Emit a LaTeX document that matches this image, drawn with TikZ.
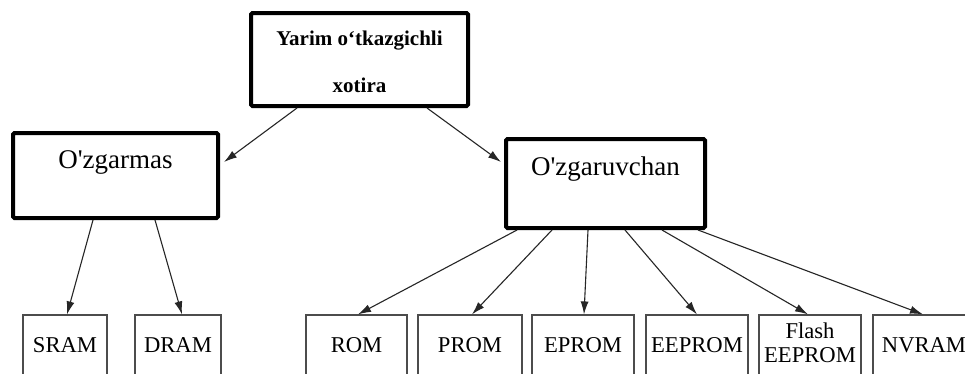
\documentclass[tikz,border=0pt]{standalone}
\usepackage{fontspec}
\setmainfont{Liberation Serif}
\usetikzlibrary{arrows.meta,calc}
\tikzset{
  thickbox/.style={draw=black, line width=4pt, rounded corners=1.5pt, fill=white, inner sep=0pt},
  leafbox/.style={draw=black!70, line width=1.2pt, inner sep=0pt, minimum height=85pt,
     font=\fontsize{22.6}{24}\selectfont, text height=16pt, text depth=27pt},
  conn/.style={draw=black!85, line width=1.1pt, -{Latex[length=13pt,width=8pt]}},
}
\begin{document}
\begin{tikzpicture}[x=1pt,y=-1pt]
\path[use as bounding box, clip] (0,0) rectangle (965,373);
\fill[white] (0,0) rectangle (965,373);
% thick boxes
\node[thickbox, minimum width=217pt, minimum height=93pt] (top) at (359.5,59.5) {};
\node[anchor=base, align=center, font=\bfseries\fontsize{21}{47}\selectfont] (toptext) at (359.5,92) {Yarim o‘tkazgichli\\xotira};
\node[thickbox, minimum width=205pt, minimum height=85pt, font=\fontsize{27}{30}\selectfont,
      text height=18pt, text depth=33pt] (oz) at (115.5,175.5) {O\textquotesingle zgarmas};
\node[thickbox, minimum width=199pt, minimum height=89pt, font=\fontsize{27}{30}\selectfont,
      text height=18pt, text depth=35pt] (ozv) at (605.5,183.5) {O\textquotesingle zgaruvchan};
% leaf boxes
\node[leafbox, minimum width=84pt] (sram) at (65,357.5) {SRAM};
\node[leafbox, minimum width=86pt] (dram) at (178,357.5) {DRAM};
\node[leafbox, minimum width=101pt] (rom) at (356.5,357.5) {ROM};
\node[leafbox, minimum width=104pt] (prom) at (470,357.5) {PROM};
\node[leafbox, minimum width=102pt] (eprom) at (583,357.5) {EPROM};
\node[leafbox, minimum width=102pt] (eeprom) at (697,357.5) {EEPROM};
\node[leafbox, minimum width=102pt, align=center, text height=40pt, text depth=31pt] (flash) at (810,357.5) {Flash\\EEPROM};
\node[leafbox, minimum width=102pt] (nvram) at (924,357.5) {NVRAM};
% connectors
\draw[conn] ([xshift=-62.5pt]top.south) -- ([xshift=4pt,yshift=13.5pt]oz.east);
\draw[conn] ([xshift=67.5pt]top.south) -- ([xshift=-3pt,yshift=21.5pt]ozv.west);
\draw[conn] ([xshift=-22.5pt]oz.south) -- ([xshift=2pt]sram.north);
\draw[conn] ([xshift=39.5pt]oz.south) -- ([xshift=4pt]dram.north);
\draw[conn] ([xshift=-88.5pt]ozv.south) -- ([xshift=1.5pt]rom.north);
\draw[conn] ([xshift=-53.5pt]ozv.south) -- ([xshift=2pt]prom.north);
\draw[conn] ([xshift=-17.5pt]ozv.south) -- ([xshift=1pt]eprom.north);
\draw[conn] ([xshift=19.5pt]ozv.south) -- (eeprom.north);
\draw[conn] ([xshift=56.5pt]ozv.south) -- ([xshift=-2pt]flash.north);
\draw[conn] ([xshift=92.5pt]ozv.south) -- ([xshift=-1pt]nvram.north);
\end{tikzpicture}
\end{document}
